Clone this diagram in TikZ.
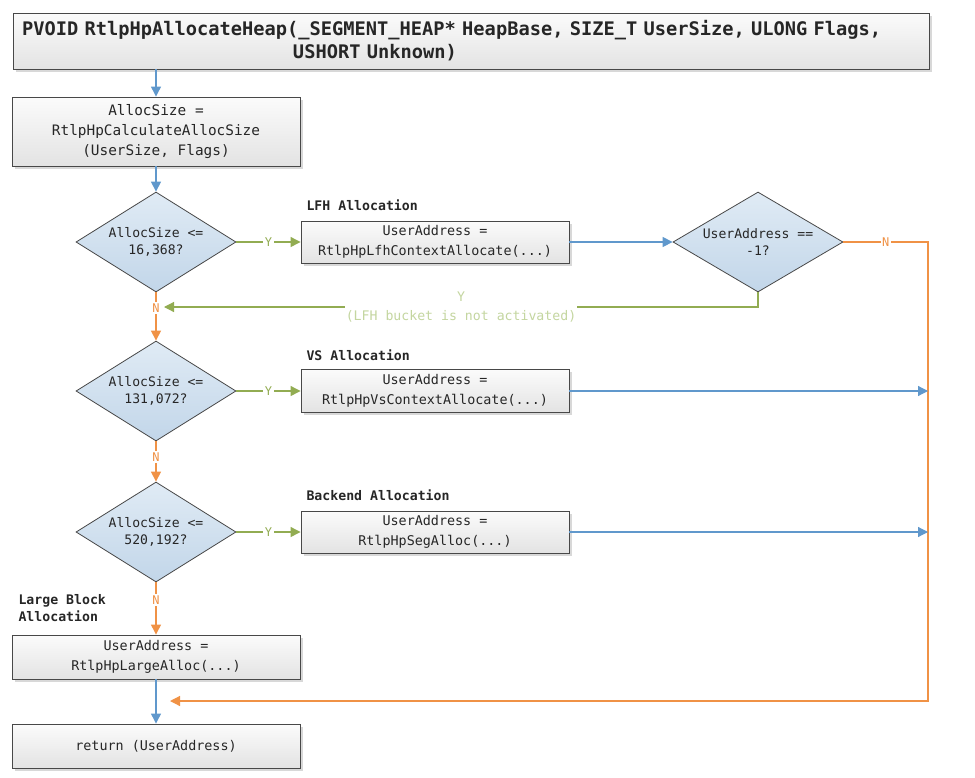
\documentclass[tikz,border=0pt]{standalone}
\usepackage{fontspec}
\setmonofont{DejaVu Sans Mono}
\usetikzlibrary{arrows.meta,shapes.geometric,shadows}
\definecolor{cblue}{RGB}{96,152,204}
\definecolor{cgreen}{RGB}{146,172,82}
\definecolor{corange}{RGB}{240,146,70}
\definecolor{clabel}{RGB}{196,214,160}
\definecolor{dfillA}{RGB}{224,235,245}
\definecolor{dfillB}{RGB}{194,214,233}
\definecolor{bord}{RGB}{72,72,72}
\begin{document}
\begin{tikzpicture}[x=1pt,y=-1pt,
  every node/.style={font=\ttfamily\fontsize{13.4}{20}\selectfont, text=black!85},
  procbox/.style={draw=bord, line width=0.9pt, top color=gray!3, bottom color=gray!22,
    drop shadow={shadow xshift=2.5pt, shadow yshift=-2.5pt, fill=black!30, opacity=0.5},
    align=center, inner sep=0pt},
  decision/.style={diamond, draw=bord, line width=0.8pt, top color=dfillA, bottom color=dfillB,
    aspect=1.6, inner sep=0pt, align=center, font=\ttfamily\fontsize{13.1}{17}\selectfont},
  sectlabel/.style={font=\ttfamily\bfseries\fontsize{13.2}{17}\selectfont, anchor=west, align=left},
  bluearrow/.style={draw=cblue, line width=1.2pt, -{Triangle[length=10pt,width=10pt]}},
  greenarrow/.style={draw=cgreen, line width=1.2pt, -{Triangle[length=10pt,width=10pt]}},
  orangearrow/.style={draw=corange, line width=1.2pt, -{Triangle[length=10pt,width=10pt]}},
  ylab/.style={fill=white, text=cgreen, inner sep=1.5pt, font=\ttfamily\fontsize{12}{14}\selectfont},
  nlab/.style={fill=white, text=corange, inner sep=1.5pt, font=\ttfamily\fontsize{12}{14}\selectfont},
  notelab/.style={fill=white, text=clabel, inner sep=1pt, align=center, font=\ttfamily\fontsize{13.2}{19}\selectfont}
]
\useasboundingbox (0,0) rectangle (975,777);

% title
\node[procbox, minimum width=916pt, minimum height=56pt, text width=898pt, align=left, inner xsep=9pt,
  font=\ttfamily\bfseries\fontsize{18.7}{23}\selectfont] (title) at (471,41)
  {PVOID RtlpHpAllocateHeap(\_SEGMENT\_HEAP* HeapBase, SIZE\_T UserSize, ULONG Flags,\\\hspace*{271pt}USHORT Unknown)};

\node[procbox, minimum width=288pt, minimum height=69pt, font=\ttfamily\fontsize{14.4}{20}\selectfont] (calc) at (156,131.5)
  {AllocSize =\\RtlpHpCalculateAllocSize\\(UserSize, Flags)};

% decisions
\node[decision, minimum width=160pt, minimum height=100pt] (d1) at (156,242) {AllocSize <=\\16,368?};
\node[decision, minimum width=170pt, minimum height=100pt] (d2) at (758,242) {UserAddress ==\\-1?};
\node[decision, minimum width=160pt, minimum height=100pt] (d3) at (156,391) {AllocSize <=\\131,072?};
\node[decision, minimum width=160pt, minimum height=100pt] (d4) at (156,532) {AllocSize <=\\520,192?};

% process boxes
\node[procbox, minimum width=268pt, minimum height=42pt] (lfh) at (435,242) {UserAddress =\\RtlpHpLfhContextAllocate(...)};
\node[procbox, minimum width=268pt, minimum height=43pt] (vs) at (435,391) {UserAddress =\\RtlpHpVsContextAllocate(...)};
\node[procbox, minimum width=268pt, minimum height=42pt] (bk) at (435,532) {UserAddress =\\RtlpHpSegAlloc(...)};
\node[procbox, minimum width=288pt, minimum height=44pt] (large) at (156,657) {UserAddress =\\RtlpHpLargeAlloc(...)};
\node[procbox, minimum width=288pt, minimum height=44pt] (ret) at (156,746) {return (UserAddress)};

% section labels
\node[sectlabel] (llfh) at (303,205) {LFH Allocation};
\node[sectlabel] (lvs) at (303,355) {VS Allocation};
\node[sectlabel] (lbk) at (303,495) {Backend Allocation};
\node[sectlabel] (llarge) at (15,608.5) {Large Block\\Allocation};

% helper coordinates
\coordinate (rx) at (928,0);
\coordinate (merge) at (170,701);
\coordinate (yret) at (164,307);

% connectors
\draw[bluearrow] (calc.north |- title.south) -- (calc.north);
\draw[bluearrow] (calc.south) -- (d1.north);
\draw[greenarrow] (d1.east) -- node[ylab]{Y} (lfh.west);
\draw[bluearrow] (lfh.east) -- (d2.west);
\draw[orangearrow] (d2.east) -- node[nlab]{N} (d2.east -| rx) -- (rx |- merge) -- (merge);
\draw[greenarrow] (d2.south) -- (d2.south |- yret) -- node[notelab]{Y\\(LFH bucket is not activated)} (yret);
\draw[orangearrow] (d1.south) -- node[nlab, pos=0.33]{N} (d3.north);
\draw[greenarrow] (d3.east) -- node[ylab]{Y} (vs.west);
\draw[bluearrow] (vs.east) -- (vs.east -| rx);
\draw[orangearrow] (d3.south) -- node[nlab, pos=0.38]{N} (d4.north);
\draw[greenarrow] (d4.east) -- node[ylab]{Y} (bk.west);
\draw[bluearrow] (bk.east) -- (bk.east -| rx);
\draw[orangearrow] (d4.south) -- node[nlab, pos=0.34]{N} (large.north);
\draw[bluearrow] (large.south) -- (ret.north);
\end{tikzpicture}
\end{document}
